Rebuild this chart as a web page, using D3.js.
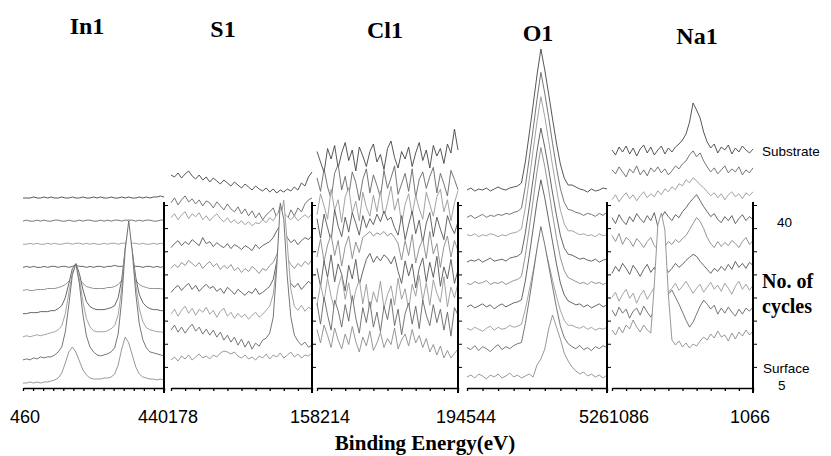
<!DOCTYPE html>
<html><head><meta charset="utf-8">
<script src="https://cdn.jsdelivr.net/npm/d3@7"></script>
<style>html,body{margin:0;padding:0;background:#fff;} svg{display:block}</style>
</head><body>
<svg id="c" width="831" height="456"></svg>
<script>
// ---------------- DATA ----------------
const TITLES = ["In1", "S1", "Cl1", "O1", "Na1"];
const CYCLES = ["5", "10", "15", "20", "25", "30", "35", "40", "Substrate"];
const X_DOMAINS = [[460, 440], [178, 158], [214, 194], [544, 526], [1086, 1066]];
const X_TICK_LABELS = [["460", "440"], ["178", "158"], ["214", "194"], ["544", "526"], ["1086", "1066"]];
const SCAN_STEP = 0.5; // eV per channel

// intensity (a.u.) per curve, index 0 = 5 cycles (surface) ... 8 = substrate
const IN1_VALUES = [
 [0,0,1,0,1,0,1,1,2,3,5,10,20,31,36,31,22,13,8,5,4,4,4,5,5,6,9,18,34,46,40,28,16,9,6,5,4,4,3,4,3],
 [0,1,0,2,1,3,2,3,3,5,8,13,28,55,85,96,76,45,24,13,8,5,4,5,6,8,12,26,60,110,139,108,66,36,20,12,8,7,6,5,4],
 [0,1,0,1,2,1,2,3,4,5,7,11,23,44,64,72,58,35,18,10,6,5,5,5,6,8,11,22,48,90,110,86,52,28,15,9,7,6,5,5,4],
 [0,0,1,1,1,2,2,2,3,3,5,8,16,30,45,50,40,24,12,7,5,4,4,4,5,6,8,16,34,64,80,62,36,19,11,7,5,4,4,3,3],
 [0,1,0,0,1,1,1,2,2,2,3,4,6,9,12,13,11,7,4,3,2,2,2,2,3,3,4,6,10,18,24,18,10,6,4,3,2,2,2,2,1],
 [0,1,0,1,0,0,1,0,1,1,0,1,1,0,1,2,1,1,0,1,0,1,1,0,1,1,2,1,1,2,3,2,1,1,0,1,1,0,1,0,1],
 [0,0,1,0,1,0,0,1,0,1,0,0,1,1,0,1,1,0,1,0,1,0,0,1,0,1,1,0,1,1,2,1,1,0,1,0,0,1,0,1,0],
 [0,1,0,0,1,0,1,0,0,1,1,0,0,1,0,0,1,0,1,1,0,0,1,0,1,0,1,1,0,1,1,1,0,1,0,1,1,0,0,1,1],
 [0,0,0,1,0,0,1,0,1,0,0,1,0,0,1,0,0,1,0,0,1,0,1,0,0,1,0,0,1,0,1,0,0,1,0,1,0,1,1,2,1]
];
const S1_VALUES = [
 [0,3,-1,4,1,5,0,3,6,2,4,1,5,3,7,9,8,6,8,4,2,5,1,3,0,4,2,6,1,5,3,7,2,5,8,3,6,2,5,4,7],
 [7,12,5,10,4,9,13,6,10,3,8,2,7,0,5,-3,2,-5,0,-8,-2,-10,-4,-12,-6,-9,-3,-1,4,20,70,134,118,60,20,2,-4,-8,-5,-10,-8],
 [0,5,-2,4,8,1,6,-1,5,2,7,0,4,-3,3,6,-2,2,-4,1,-3,0,-5,-1,2,-3,0,4,8,20,50,95,114,70,25,8,4,9,3,7,5],
 [-1,3,6,1,5,8,2,6,0,4,7,3,5,0,3,-2,4,1,-3,2,-1,-4,0,-2,3,-3,-1,2,5,12,30,45,40,20,8,4,8,2,6,10,7],
 [0,4,1,6,3,8,5,2,6,0,4,7,2,5,-1,3,0,4,-2,1,-4,0,-3,2,-1,-5,0,-2,3,6,14,25,22,10,4,0,5,2,7,4,9],
 [-2,2,5,0,4,1,6,3,0,8,2,4,-1,3,0,-2,2,-3,1,-1,-4,0,-2,-5,1,-3,0,2,4,8,15,20,16,8,3,6,1,5,8,6,10],
 [5,9,3,8,11,4,9,6,10,3,7,2,6,9,4,1,5,0,3,-1,2,-2,1,-3,0,-1,3,0,5,2,8,12,10,6,3,7,2,5,8,5,9],
 [-3,2,-5,0,4,-2,1,-4,0,-6,-1,-3,-8,-2,-6,-10,-4,-9,-12,-7,-14,-9,-16,-11,-18,-13,-20,-15,-12,-8,-18,-6,-14,-20,-10,-16,-8,-12,-4,0,2],
 [2,0,4,-1,3,6,1,-2,2,-3,0,-5,-1,-4,-7,-3,-6,-9,-5,-8,-11,-7,-10,-13,-9,-12,-14,-11,-15,-12,-16,-13,-15,-12,-14,-10,-13,-6,-9,0,5]
];
const CL1_VALUES = [
 [7,-2,10,3,-5,8,0,-6,4,-3,9,-1,-8,2,-4,6,-7,-2,5,-5,1,-3,8,-6,0,4,-4,7,-2,3,-5,1,-8,-3,-10,-4,-12,-7,-12,-9,-6],
 [10,-4,14,2,-8,12,5,-6,9,-2,15,0,-10,7,-3,11,-6,4,-9,8,-1,13,-5,6,-11,3,10,-4,8,-7,12,2,-5,9,-3,6,-8,4,-12,7,2],
 [-6,8,-3,12,0,-9,6,14,-2,9,-7,4,11,-5,8,-10,3,-4,10,-8,1,7,-6,12,-2,5,-9,8,0,14,-3,9,-6,11,2,-4,13,-7,6,-1,9],
 [4,-8,9,-2,13,-5,7,0,-11,6,-3,10,-7,2,10,14,8,12,9,13,11,7,12,2,-6,9,-1,7,-9,4,11,-5,8,-2,12,-8,5,-3,10,-6,3],
 [-3,9,-6,5,12,-2,8,-9,4,11,-4,7,0,10,12,14,11,13,12,14,11,13,10,6,-5,8,-2,12,-7,3,9,-4,14,-1,6,-10,4,11,-3,8,1],
 [8,-5,11,2,-7,14,3,-4,9,-1,12,5,-3,10,2,8,4,11,6,13,7,9,2,-3,10,-6,4,13,-2,7,-8,5,12,-4,9,1,-6,10,3,-2,6],
 [-4,10,2,-7,13,-1,6,-9,8,14,-3,5,-8,11,1,-5,9,-2,12,-6,4,15,-1,7,-10,3,10,-4,9,0,-7,11,3,-5,8,13,-2,6,-8,4,12],
 [6,-3,12,0,-8,9,15,-2,7,-6,10,3,-9,5,12,-4,8,1,-7,11,-1,6,14,-5,2,9,-3,12,-7,5,10,-1,7,13,-4,9,2,-6,11,5,-2],
 [9,2,-5,11,4,13,-2,8,15,3,10,-4,12,6,-1,9,14,2,7,-3,11,16,5,-2,9,4,12,-1,8,15,3,10,-2,13,6,11,1,14,8,24,10]
];
const O1_VALUES = [
 [0,2,-1,3,1,-2,2,0,3,-1,1,4,0,2,-1,1,3,0,12,18,28,48,62,50,38,24,16,10,6,3,5,1,3,0,2,-1,2],
 [6,4,8,3,7,5,2,6,9,4,7,5,8,10,11,30,54,79,105,127,109,88,67,46,28,16,10,7,5,8,4,6,3,7,5,8,6],
 [2,0,3,1,-1,2,4,0,3,1,2,5,3,4,6,21,40,59,80,97,83,67,50,34,20,10,5,5,3,2,4,1,3,0,2,1,3],
 [0,2,-1,1,3,0,2,-2,1,3,0,2,4,5,7,26,51,78,105,127,109,87,65,43,24,12,6,4,2,3,0,2,-1,1,3,0,2],
 [0,-1,2,0,1,3,-1,1,0,2,-1,1,3,4,7,28,55,83,112,136,117,94,69,46,26,13,6,4,2,0,1,-1,2,0,1,-1,1],
 [-2,0,-1,1,-2,0,2,-1,0,1,-1,2,3,4,7,27,53,81,109,132,113,91,67,45,25,12,6,5,3,1,2,0,-1,1,-2,0,1],
 [2,1,3,0,2,1,3,2,0,2,1,3,4,5,8,29,57,86,115,140,120,96,71,48,27,13,6,6,4,2,3,1,2,0,3,1,2],
 [-4,-2,-5,-3,-1,-4,-2,-3,-1,-2,0,-1,1,2,5,27,55,84,114,141,120,96,70,46,25,11,4,3,1,0,-2,0,-1,-3,0,-2,1],
 [0,2,-1,1,0,2,-1,1,3,1,0,2,3,4,7,28,56,85,115,141,120,96,71,47,26,12,5,5,3,1,0,-2,1,-1,0,2,1]
];
const NA1_VALUES = [
 [5,0,8,2,10,6,15,8,3,10,5,2,50,110,122,105,40,-5,-10,-6,-12,-8,-13,-9,-11,-6,-2,-5,1,-3,4,-2,0,-6,2,-4,3,-1,5,0,4],
 [2,-4,5,-1,3,-6,1,4,-3,6,0,-5,2,8,4,10,18,22,15,8,0,-8,-15,-10,-2,6,12,8,3,7,-2,4,-1,5,0,-4,3,-2,4,1,5],
 [-8,-3,-12,-5,0,-9,-4,-14,-6,-1,-10,-4,2,-6,-2,4,-3,1,6,-1,3,8,2,-4,1,5,-3,2,7,0,4,-2,6,1,-5,3,8,0,5,-1,4],
 [-7,0,-5,3,-2,-8,1,-4,-10,-3,2,-6,-1,-9,-4,0,-6,-2,3,-1,2,6,9,12,10,5,1,-3,-7,-2,-5,0,-4,2,-3,5,-1,3,-2,4,1],
 [8,2,10,-1,6,3,-3,5,1,-4,2,6,-2,-6,0,-3,2,-1,4,1,5,8,14,20,26,22,15,6,0,-4,2,-3,1,-2,3,0,-4,2,6,-1,3],
 [3,-3,6,0,-4,4,-1,7,2,-2,5,0,8,-6,3,9,4,0,6,3,9,13,18,22,26,20,14,9,4,7,1,-2,4,0,5,-3,2,6,0,4,1],
 [-2,3,-4,1,5,-1,3,-3,2,6,0,4,1,7,3,9,6,11,8,14,12,18,15,20,17,13,10,6,2,5,0,4,-2,3,6,1,4,-1,5,2,6],
 [5,1,8,3,-2,6,2,9,0,5,-1,7,3,8,2,6,0,4,9,6,11,14,20,24,18,22,14,8,3,7,1,5,9,2,6,3,8,0,5,2,7],
 [2,-3,5,0,6,-2,4,-4,3,7,-1,5,-3,2,6,-2,4,0,5,8,12,18,30,49,42,34,20,10,4,8,-1,5,2,7,-2,4,0,6,2,-1,3]
];
const VALUES = [IN1_VALUES, S1_VALUES, CL1_VALUES, O1_VALUES, NA1_VALUES];

// ---------------- LAYOUT ----------------
const svg = d3.select("#c");
const PLOT_BOTTOM = 388, AXIS_TOP = 202;
const PANEL_X = [[23, 164], [171, 312], [317, 458], [467, 607], [612, 753]];
const BASELINES = [[383, 198], [360, 177], [340, 165], [377, 190], [335, 152]];
const INTENSITY_GAIN = [1, 1, 1.5, 1, 1];
const TITLE_POS = [[87, 34], [223, 37], [385, 38], [538, 41], [697, 44]];
const BOTTOM_TICK_STEPS = [20 / 14, 2, 2, 2, 2];
const COLORS = ["#8c8c8c", "#666", "#999", "#555", "#888", "#555", "#999", "#666", "#444"];
const SERIF = "'Liberation Serif','Times New Roman',serif";
const SANS = "'Liberation Sans',Arial,sans-serif";

TITLES.forEach((title, pi) => {
  const dom = X_DOMAINS[pi];
  const x = d3.scaleLinear().domain(dom).range(PANEL_X[pi]);
  const base = d3.scaleLinear().domain([0, CYCLES.length - 1]).range(BASELINES[pi]);
  const yInt = d3.scaleLinear().domain([0, 100]).range([0, 100 * INTENSITY_GAIN[pi]]);
  const energies = d3.range(dom[0], dom[1] - SCAN_STEP / 2, -SCAN_STEP);
  const g = svg.append("g");

  for (let k = CYCLES.length - 1; k >= 0; k--) {
    const pts = VALUES[pi][k].map((v, i) => ({ e: energies[i], v }));
    const area = d3.area().x(d => x(d.e)).y0(PLOT_BOTTOM).y1(d => base(k) - yInt(d.v));
    const line = d3.line().x(d => x(d.e)).y(d => base(k) - yInt(d.v));
    g.append("path").attr("d", area(pts)).attr("fill", "#fff");
    g.append("path").attr("d", line(pts)).attr("fill", "none")
      .attr("stroke", COLORS[k]).attr("stroke-width", 0.9).attr("stroke-linejoin", "round");
  }

  // bottom axis
  const step = BOTTOM_TICK_STEPS[pi];
  const n = Math.round(Math.abs(dom[0] - dom[1]) / step);
  const tv = d3.range(0, n + 1).map(j => dom[0] - j * step);
  const bx = g.append("g").attr("transform", `translate(0,${PLOT_BOTTOM})`)
    .call(d3.axisBottom(x).tickValues(tv).tickSize(3).tickSizeOuter(0).tickFormat(""));
  bx.select(".domain").attr("stroke", "#000").attr("stroke-width", 1.6);
  bx.selectAll(".tick line").attr("stroke", "#000").attr("stroke-width", 1.3);

  // right axis
  const yAx = d3.scaleLinear().domain([0, 8]).range([390, 205]);
  const ry = g.append("g").attr("transform", `translate(${PANEL_X[pi][1]},0)`)
    .call(d3.axisRight(yAx).tickValues(d3.range(1, 9)).tickSize(4).tickSizeOuter(0).tickFormat(""));
  ry.select(".domain").remove();
  ry.selectAll(".tick line").attr("stroke", "#000").attr("stroke-width", 1);
  g.append("line").attr("x1", PANEL_X[pi][1]).attr("x2", PANEL_X[pi][1])
    .attr("y1", AXIS_TOP).attr("y2", PLOT_BOTTOM + 5).attr("stroke", "#000").attr("stroke-width", 2);

  // title
  svg.append("text").attr("x", TITLE_POS[pi][0]).attr("y", TITLE_POS[pi][1])
    .attr("text-anchor", "middle").attr("font-family", SERIF).attr("font-weight", "bold")
    .attr("font-size", 24).text(title);
});

// x tick labels
const LABEL_Y = 423;
const JUNCTIONS = [168, 320, 466, 609];
const tl = svg.append("g").attr("font-family", SANS).attr("font-size", 18).attr("fill", "#000");
tl.append("text").attr("x", 25).attr("y", LABEL_Y).attr("text-anchor", "middle").text(X_TICK_LABELS[0][0]);
JUNCTIONS.forEach((jx, i) => {
  tl.append("text").attr("x", jx).attr("y", LABEL_Y).attr("text-anchor", "end").text(X_TICK_LABELS[i][1]);
  tl.append("text").attr("x", jx).attr("y", LABEL_Y).attr("text-anchor", "start").text(X_TICK_LABELS[i + 1][0]);
});
tl.append("text").attr("x", 750).attr("y", LABEL_Y).attr("text-anchor", "middle").text(X_TICK_LABELS[4][1]);

svg.append("text").attr("x", 425).attr("y", 450).attr("text-anchor", "middle")
  .attr("font-family", SERIF).attr("font-weight", "bold").attr("font-size", 21)
  .text("Binding Energy(eV)");

// right side labels
const rl = svg.append("g").attr("font-family", SANS).attr("font-size", 13.5).attr("fill", "#000");
rl.append("text").attr("x", 762).attr("y", 156).text(CYCLES[8]);
rl.append("text").attr("x", 777).attr("y", 227).text(CYCLES[7]);
rl.append("text").attr("x", 763).attr("y", 373).text("Surface");
rl.append("text").attr("x", 778).attr("y", 390).text(CYCLES[0]);
const nc = svg.append("g").attr("font-family", SERIF).attr("font-weight", "bold").attr("font-size", 20);
nc.append("text").attr("x", 762).attr("y", 288).text("No. of");
nc.append("text").attr("x", 762).attr("y", 313).text("cycles");
</script></body></html>
